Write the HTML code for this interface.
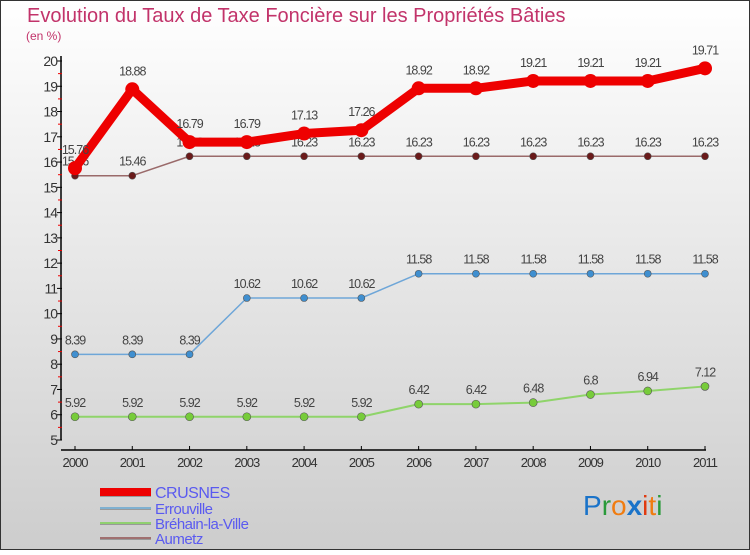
<!DOCTYPE html>
<html><head><meta charset="utf-8"><style>
body{margin:0;}
#c{width:750px;height:550px;position:relative;font-family:"Liberation Sans",sans-serif;}
</style></head><body>
<div id="c">
<svg id="s" width="750" height="550" xmlns="http://www.w3.org/2000/svg">
<defs><linearGradient id="bg" x1="0" y1="0" x2="0" y2="1"><stop offset="0" stop-color="#ffffff"/><stop offset="1" stop-color="#cdcdcd"/></linearGradient></defs>
<rect x="0.5" y="0.5" width="749" height="549" fill="url(#bg)" stroke="#333"/>
<text x="27" y="22" font-size="20" fill="#c2336a">Evolution du Taux de Taxe Foncière sur les Propriétés Bâties</text>
<text x="26" y="40" font-size="12" fill="#c2336a">(en %)</text>
<g id="axes"></g><g id="series"></g><g id="legend"></g>
<text x="583" y="515" font-size="28"><tspan fill="#1a73c9">P</tspan><tspan fill="#2a9a3a">r</tspan><tspan fill="#f07c10">o</tspan><tspan fill="#1a73c9" font-weight="bold">x</tspan><tspan fill="#e03a10">i</tspan><tspan fill="#f07c10">t</tspan><tspan fill="#2a9a3a">i</tspan></text>
</svg></div>
<script>
const years=["2000","2001","2002","2003","2004","2005","2006","2007","2008","2009","2010","2011"];
const crusnes=[15.76,18.88,16.79,16.79,17.13,17.26,18.92,18.92,19.21,19.21,19.21,19.71];
const errouville=[8.39,8.39,8.39,10.62,10.62,10.62,11.58,11.58,11.58,11.58,11.58,11.58];
const brehain=[5.92,5.92,5.92,5.92,5.92,5.92,6.42,6.42,6.48,6.8,6.94,7.12];
const aumetz=[15.46,15.46,16.23,16.23,16.23,16.23,16.23,16.23,16.23,16.23,16.23,16.23];
const yTicks=[5,6,7,8,9,10,11,12,13,14,15,16,17,18,19,20];
const seriesNames=["CRUSNES","Errouville","Bréhain-la-Ville","Aumetz"];
const NS="http://www.w3.org/2000/svg";
function X(i){return 75+i*(705-75)/(years.length-1);}
function Y(v){return 440-(v-5)*(440-61)/15;}
function mk(tag,at,parent){const e=document.createElementNS(NS,tag);for(const k in at)e.setAttribute(k,at[k]);parent.appendChild(e);return e;}
const ax=document.getElementById('axes');
let e=mk('line',{x1:61,y1:56,x2:61,y2:440,stroke:'#000','stroke-width':1.5},ax);


e=mk('line',{x1:61,y1:450,x2:706,y2:450,stroke:'#000','stroke-width':1.5},ax);


yTicks.forEach((v,i)=>{
  mk('line',{x1:57,y1:Y(v),x2:62,y2:Y(v),stroke:'#000'},ax);
  if(i<yTicks.length-1) mk('line',{x1:58,y1:Y(v+0.5),x2:62,y2:Y(v+0.5),stroke:'#e00'},ax);
  const t=mk('text',{x:57,y:Y(v)+5,'font-size':14,'text-anchor':'end',fill:'#333','letter-spacing':'-1'},ax);
  t.textContent=v;
  
  
});
years.forEach((y,i)=>{
  mk('line',{x1:X(i),y1:446,x2:X(i),y2:450,stroke:'#000'},ax);
  const t=mk('text',{x:X(i),y:467,'font-size':13,'text-anchor':'middle',fill:'#333','letter-spacing':'-1'},ax);
  t.textContent=y;
  
  
});
const sg=document.getElementById('series');
function draw(data,color,w,r,fill,name,labelDy){
  const g=mk('g',{},sg);
  
  
  mk('polyline',{points:data.map((v,i)=>X(i)+','+Y(v)).join(' '),fill:'none',stroke:color,'stroke-width':w,'stroke-linejoin':'round'},g);
  data.forEach((v,i)=>{
    const c=mk('circle',{cx:X(i),cy:Y(v),r:r,fill:fill,stroke:fill==='#e00'?'none':'#555','stroke-width':0.6},g);
    
    
    const t=mk('text',{x:X(i),y:Y(v)+labelDy,'font-size':12.5,'text-anchor':'middle',fill:'#444','letter-spacing':'-1'},g);
    t.textContent=v;
    
    
  });
}
draw(brehain,'#8fd46a',2,4,'#77cc3a','brehain',-10);
draw(errouville,'#6ea6d8',1.5,3.5,'#3f8fd0','errouville',-10);
draw(aumetz,'#9a6a6a',1.5,3.5,'#6a1a1a','aumetz',-10);
draw(crusnes,'#e00',9,7,'#e00','crusnes',-14);
const lg=document.getElementById('legend');
const lc=['#e00','#7fb0d0','#90d070','#a07070'],lw=[8,2,2,2],ly=[492,508,523,538];
seriesNames.forEach((n,i)=>{
  mk('line',{x1:100,y1:ly[i]+1,x2:151,y2:ly[i]+1,stroke:'#999','stroke-width':lw[i]},lg);
  mk('line',{x1:100,y1:ly[i],x2:151,y2:ly[i],stroke:lc[i],'stroke-width':lw[i]},lg);
  const t=mk('text',{x:155,y:ly[i]+6,'font-size':i===0?16:15,fill:'#5a5af0','letter-spacing':'-0.5'},lg);
  t.textContent=n;
  
  
});
</script>
</body></html>
